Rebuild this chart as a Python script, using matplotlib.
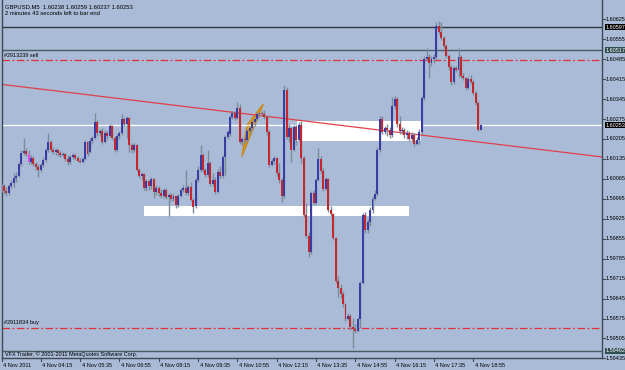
import matplotlib
matplotlib.use("Agg")
import matplotlib.pyplot as plt
from matplotlib.patches import Rectangle, Polygon

# ---------------- data ----------------
title_line = "GBPUSD,M5  1.60238 1.60259 1.60237 1.60253"
timer_line = "2 minutes 43 seconds left to bar end"
copyright_line = "VFX Trader, \u00a9 2001-2011 MetaQuotes Software Corp."

opens = [1.60026,1.60040,1.60023,1.60016,1.60040,1.60051,1.60068,1.60075,1.60117,1.60156,
1.60163,1.60152,1.60124,1.60138,1.60117,1.60107,1.60096,1.60114,1.60131,1.60166,
1.60195,1.60166,1.60159,1.60166,1.60156,1.60149,1.60152,1.60135,1.60124,1.60142,
1.60149,1.60138,1.60128,1.60124,1.60135,1.60195,1.60159,1.60198,1.60209,1.60265,
1.60226,1.60233,1.60195,1.60226,1.60216,1.60251,1.60209,1.60166,1.60216,1.60226,
1.60275,1.60258,1.60279,1.60184,1.60166,1.60184,1.60096,1.60075,1.60082,1.60033,
1.60058,1.60040,1.60065,1.60019,1.60033,1.60016,1.60005,1.60026,1.60002,1.60009,
1.59995,1.60005,1.59973,1.60005,1.60026,1.60033,1.60016,1.60037,1.59991,1.59970,
1.60061,1.60096,1.60149,1.60096,1.60079,1.60121,1.60047,1.60061,1.60019,1.60089,
1.60075,1.60142,1.60212,1.60223,1.60282,1.60296,1.60279,1.60314,1.60195,1.60205,
1.60202,1.60233,1.60244,1.60265,1.60275,1.60293,1.60296,1.60293,1.60282,1.60230,
1.60114,1.60128,1.60138,1.60086,1.60061,1.60005,1.60377,1.60212,1.60244,1.60166,
1.60247,1.60202,1.60254,1.60138,1.59938,1.59865,1.59808,1.60016,1.59980,1.60061,
1.60135,1.60093,1.60030,1.60065,1.59956,1.59942,1.59858,1.59707,1.59682,1.59661,
1.59626,1.59573,1.59584,1.59545,1.59538,1.59531,1.59573,1.59700,1.59938,1.59886,
1.59914,1.59956,1.59995,1.60012,1.60166,1.60275,1.60230,1.60244,1.60237,1.60219,
1.60321,1.60346,1.60258,1.60233,1.60237,1.60219,1.60226,1.60205,1.60219,1.60188,
1.60202,1.60230,1.60349,1.60486,1.60493,1.60472,1.60486,1.60493,1.60602,1.60581,
1.60560,1.60532,1.60496,1.60458,1.60405,1.60454,1.60447,1.60493,1.60426,1.60419,
1.60384,1.60416,1.60405,1.60367,1.60331,1.60238]

highs = [1.60051,1.60047,1.60037,1.60047,1.60061,1.60086,1.60089,1.60124,1.60166,1.60209,
1.60174,1.60166,1.60149,1.60145,1.60124,1.60117,1.60121,1.60142,1.60174,1.60226,
1.60202,1.60177,1.60174,1.60170,1.60163,1.60159,1.60156,1.60149,1.60149,1.60156,
1.60152,1.60145,1.60138,1.60142,1.60202,1.60198,1.60209,1.60216,1.60296,1.60272,
1.60240,1.60244,1.60237,1.60233,1.60258,1.60254,1.60216,1.60223,1.60233,1.60293,
1.60282,1.60286,1.60282,1.60191,1.60191,1.60188,1.60103,1.60089,1.60086,1.60065,
1.60061,1.60072,1.60068,1.60044,1.60040,1.60030,1.60033,1.60033,1.60016,1.60016,
1.60012,1.60009,1.60012,1.60033,1.60044,1.60096,1.60044,1.60054,1.59998,1.60068,
1.60110,1.60184,1.60156,1.60103,1.60166,1.60128,1.60086,1.60072,1.60100,1.60110,
1.60149,1.60219,1.60237,1.60289,1.60303,1.60303,1.60335,1.60328,1.60212,1.60216,
1.60240,1.60251,1.60272,1.60282,1.60300,1.60300,1.60303,1.60307,1.60289,1.60237,
1.60135,1.60145,1.60142,1.60121,1.60068,1.60395,1.60388,1.60258,1.60247,1.60254,
1.60254,1.60265,1.60268,1.60145,1.59980,1.59879,1.60023,1.60026,1.60068,1.60174,
1.60145,1.60103,1.60072,1.60068,1.59970,1.59945,1.59861,1.59724,1.59697,1.59672,
1.59630,1.59594,1.59591,1.59577,1.59556,1.59580,1.59707,1.59945,1.59949,1.59924,
1.59966,1.60005,1.60026,1.60177,1.60286,1.60286,1.60251,1.60258,1.60247,1.60353,
1.60356,1.60353,1.60286,1.60247,1.60244,1.60237,1.60233,1.60230,1.60226,1.60212,
1.60240,1.60356,1.60496,1.60525,1.60503,1.60496,1.60503,1.60616,1.60619,1.60616,
1.60567,1.60539,1.60503,1.60465,1.60461,1.60461,1.60525,1.60500,1.60437,1.60423,
1.60423,1.60430,1.60412,1.60374,1.60338,1.60259]

lows = [1.60019,1.60012,1.60005,1.60009,1.60033,1.60037,1.60054,1.60072,1.60110,1.60149,
1.60145,1.60117,1.60117,1.60110,1.60096,1.60072,1.60089,1.60107,1.60124,1.60159,
1.60159,1.60152,1.60149,1.60145,1.60142,1.60142,1.60128,1.60114,1.60117,1.60135,
1.60131,1.60124,1.60121,1.60121,1.60131,1.60145,1.60156,1.60188,1.60205,1.60216,
1.60216,1.60188,1.60191,1.60205,1.60212,1.60202,1.60159,1.60163,1.60205,1.60219,
1.60251,1.60209,1.60159,1.60156,1.60159,1.60093,1.60068,1.60061,1.60026,1.60023,
1.60026,1.60030,1.59998,1.60009,1.60005,1.59998,1.59998,1.59995,1.59935,1.59988,
1.59988,1.59963,1.59966,1.60002,1.60019,1.60009,1.60009,1.59988,1.59945,1.59963,
1.60054,1.60089,1.60089,1.60072,1.60072,1.60040,1.60040,1.60012,1.60016,1.60068,
1.60068,1.60079,1.60205,1.60216,1.60275,1.60272,1.60275,1.60188,1.60184,1.60191,
1.60195,1.60223,1.60237,1.60251,1.60272,1.60282,1.60286,1.60275,1.60219,1.60107,
1.60110,1.60117,1.60075,1.60051,1.59984,1.59998,1.60205,1.60195,1.60124,1.60163,
1.60184,1.60198,1.60121,1.59931,1.59858,1.59791,1.59801,1.59973,1.59977,1.60058,
1.60086,1.60023,1.60026,1.59949,1.59935,1.59851,1.59700,1.59651,1.59647,1.59615,
1.59566,1.59570,1.59535,1.59472,1.59524,1.59528,1.59542,1.59697,1.59875,1.59875,
1.59900,1.59945,1.59991,1.60005,1.60159,1.60223,1.60223,1.60216,1.60209,1.60212,
1.60310,1.60247,1.60223,1.60223,1.60209,1.60205,1.60198,1.60198,1.60181,1.60184,
1.60188,1.60223,1.60342,1.60479,1.60419,1.60461,1.60472,1.60486,1.60574,1.60553,
1.60525,1.60489,1.60447,1.60395,1.60398,1.60440,1.60423,1.60419,1.60412,1.60377,
1.60381,1.60398,1.60360,1.60324,1.60233,1.60237]

closes = [1.60040,1.60023,1.60016,1.60040,1.60051,1.60068,1.60075,1.60117,1.60156,1.60163,
1.60152,1.60124,1.60138,1.60117,1.60107,1.60096,1.60114,1.60131,1.60166,1.60195,
1.60166,1.60159,1.60166,1.60156,1.60149,1.60152,1.60135,1.60124,1.60142,1.60149,
1.60138,1.60128,1.60124,1.60135,1.60195,1.60152,1.60198,1.60209,1.60265,1.60226,
1.60233,1.60195,1.60226,1.60216,1.60251,1.60209,1.60166,1.60216,1.60226,1.60275,
1.60258,1.60279,1.60184,1.60166,1.60184,1.60096,1.60075,1.60082,1.60033,1.60058,
1.60040,1.60065,1.60019,1.60033,1.60016,1.60005,1.60026,1.60002,1.60009,1.59995,
1.60005,1.59973,1.60005,1.60026,1.60033,1.60016,1.60037,1.59991,1.59966,1.60061,
1.60096,1.60149,1.60096,1.60079,1.60121,1.60047,1.60061,1.60019,1.60089,1.60075,
1.60142,1.60212,1.60230,1.60282,1.60296,1.60279,1.60314,1.60195,1.60205,1.60202,
1.60233,1.60244,1.60265,1.60275,1.60293,1.60296,1.60293,1.60282,1.60230,1.60114,
1.60128,1.60138,1.60086,1.60061,1.60005,1.60377,1.60212,1.60244,1.60166,1.60247,
1.60202,1.60254,1.60138,1.59938,1.59865,1.59808,1.60016,1.59980,1.60061,1.60135,
1.60093,1.60030,1.60065,1.59956,1.59942,1.59858,1.59707,1.59682,1.59661,1.59626,
1.59573,1.59584,1.59545,1.59538,1.59531,1.59573,1.59700,1.59938,1.59886,1.59914,
1.59956,1.59995,1.60012,1.60166,1.60275,1.60230,1.60244,1.60237,1.60219,1.60321,
1.60346,1.60258,1.60233,1.60237,1.60219,1.60226,1.60205,1.60219,1.60188,1.60202,
1.60230,1.60349,1.60486,1.60493,1.60472,1.60486,1.60493,1.60602,1.60581,1.60560,
1.60532,1.60496,1.60458,1.60405,1.60454,1.60447,1.60493,1.60426,1.60419,1.60384,
1.60416,1.60405,1.60367,1.60331,1.60237,1.60253]

highlight_bar = 11   # candle drawn in magenta in the reference

time_labels = ["4 Nov 2011", "4 Nov 04:15", "4 Nov 05:35", "4 Nov 06:55", "4 Nov 08:15",
               "4 Nov 09:35", "4 Nov 10:55", "4 Nov 12:15", "4 Nov 13:35", "4 Nov 14:55",
               "4 Nov 16:15", "4 Nov 17:35", "4 Nov 18:55"]
time_label_bars = [0, 16, 32, 48, 64, 80, 96, 112, 128, 144, 160, 176, 192]

price_ticks = [1.60625, 1.60555, 1.60485, 1.60415, 1.60345, 1.60275, 1.60205, 1.60135,
               1.60065, 1.59995, 1.59925, 1.59855, 1.59785, 1.59715, 1.59645, 1.59575,
               1.59505, 1.59435]

hline_prices = [1.60597, 1.60517, 1.59462]
hline_labels = ["1.60597", "1.60517", "1.59462"]
bid_price = 1.60253
bid_label = "1.60253"

order_names = ["#2913239 sell", "#2911834 buy"]
order_prices = [1.60482, 1.59542]

trend_bars = [-1.2, 244.4]
trend_prices = [1.60398, 1.60142]

rect_bar_start = [120.3, 58.0]
rect_bar_end = [170.7, 165.9]
rect_price_low = [1.60198, 1.59935]
rect_price_high = [1.60267, 1.59970]

tri_bars = [97.8, 106.6, 99.9]
tri_prices = [1.60143, 1.60328, 1.60254]

# ---------------- style ----------------
BG = "#A9BBD6"
BULL = "#3B3BA6"
BEAR = "#C4282C"
WICK = "#7D8A9C"
FRAME = "#3E4A56"
SMALL = ["Liberation Sans Narrow", "Liberation Sans", "DejaVu Sans"]
FS = 4.0

W, H = 625, 370
fig = plt.figure(figsize=(W / 100, H / 100), dpi=100, facecolor=BG)
ax_left, ax_right, ax_top, ax_bottom = 2, 602, 0, 358
ax = fig.add_axes([ax_left / W, (H - ax_bottom) / H, (ax_right - ax_left) / W, (ax_bottom - ax_top) / H])
ax.set_facecolor(BG)
ax.set_xlim(0.2, 244.4)
ax.set_ylim(1.594365, 1.606927)
ax.set_xticks([])
ax.set_yticks([])
ax.spines["top"].set_visible(False)
for s in ["left", "right", "bottom"]:
    ax.spines[s].set_color(FRAME)
    ax.spines[s].set_linewidth(1.0)

# background objects: rectangles and triangle
for b0, b1, pl, ph in zip(rect_bar_start, rect_bar_end, rect_price_low, rect_price_high):
    ax.add_patch(Rectangle((b0, pl), b1 - b0, ph - pl, facecolor="white", edgecolor="none", zorder=1))
ax.add_patch(Polygon(list(zip(tri_bars, tri_prices)), closed=True, facecolor="#D99A1E",
                     edgecolor="#C8860E", lw=0.8, zorder=1.2))

# horizontal lines
ax.axhline(hline_prices[0], color="#30383F", lw=1.0, zorder=1.5)
ax.axhline(hline_prices[1], color="#4A5C63", lw=1.0, zorder=1.5)
ax.axhline(hline_prices[2], color="#4A5C63", lw=1.0, zorder=1.5)
ax.axhline(bid_price, color="white", lw=1.0, zorder=1.6)
for p in order_prices:
    ax.axhline(p, color="#E0303A", lw=0.9, dashes=(6, 2, 1.5, 2), zorder=1.7)

# trend line
ax.plot(trend_bars, trend_prices, color="#E0404A", lw=0.9, zorder=1.8)

# candles
n = len(opens)
idx = list(range(n))
ax.vlines(idx, lows, highs, color=WICK, lw=1.0, zorder=3)
bottoms = [min(o, c) for o, c in zip(opens, closes)]
heights = [max(abs(c - o), 0.00004) for o, c in zip(opens, closes)]
colors = []
for i, (o, c) in enumerate(zip(opens, closes)):
    if i == highlight_bar:
        colors.append("#E050E0")
    else:
        colors.append(BULL if c >= o else BEAR)
ax.bar(idx, heights, bottom=bottoms, width=0.8, color=colors, edgecolor="none", zorder=4)

# texts inside chart
def ftext(px, py, s, **kw):
    fig.text(px / W, 1 - py / H, s, family=SMALL, **kw)

ftext(5, 6.5, title_line, fontsize=4.2, color="black", va="center", ha="left")
ftext(5, 13.5, timer_line, fontsize=4.2, color="black", va="center", ha="left")
ftext(5, 354.5, copyright_line, fontsize=4.0, color="black", va="center", ha="left")
for name, p in zip(order_names, order_prices):
    ax.annotate(name, (0.9, p), xytext=(0, 1.8), textcoords="offset points",
                fontsize=4.0, family=SMALL, color="black", va="bottom", ha="left", zorder=6)

# right price scale
tr = ax.get_yaxis_transform()
for p in price_ticks:
    ax.plot([1.0, 1.0 + 3 / 600], [p, p], transform=tr, color=FRAME, lw=0.8, clip_on=False)
    ax.text(1.0 + 3.5 / 600, p, f"{p:.5f}", transform=tr, fontsize=FS, family=SMALL,
            color="black", va="center", ha="left", clip_on=False)

def price_flag(p, label, face):
    ax.text(1.0 + 3.5 / 600, p, label, transform=tr, fontsize=FS, family=SMALL,
            color="white", va="center", ha="left", clip_on=False, zorder=7,
            bbox=dict(boxstyle="square,pad=0.12", facecolor=face, edgecolor="none"))

price_flag(hline_prices[0], hline_labels[0], "black")
price_flag(hline_prices[1], hline_labels[1], "#2F4F4F")
price_flag(hline_prices[2], hline_labels[2], "#2F4F4F")
price_flag(bid_price, bid_label, "black")

# time scale
trx = ax.get_xaxis_transform()
for b, lab in zip(time_label_bars, time_labels):
    ax.plot([b, b], [0, -3 / 358], transform=trx, color=FRAME, lw=0.8, clip_on=False)
    ax.text(b + 0.6, -7.5 / 358, lab, transform=trx, fontsize=FS, family=SMALL,
            color="black", va="center", ha="left", clip_on=False)

fig.savefig("out.png", dpi=100, facecolor=BG)
